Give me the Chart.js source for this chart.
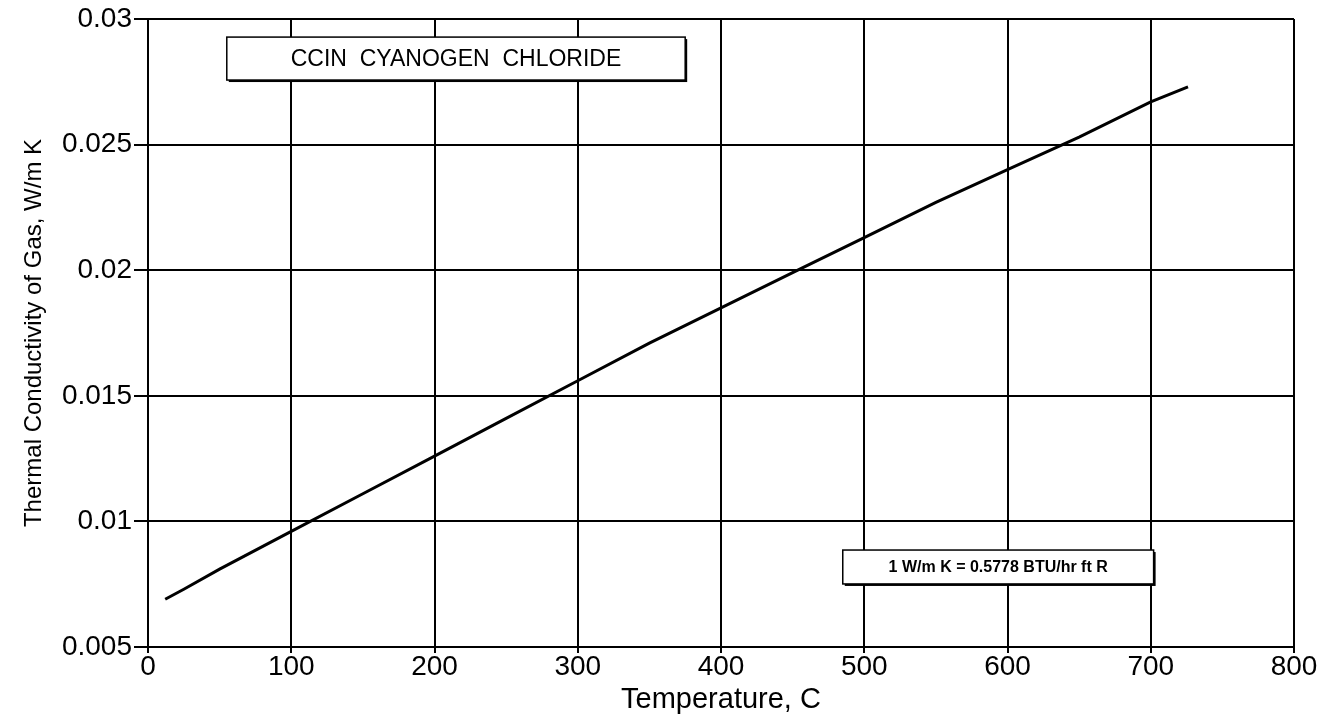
<!DOCTYPE html>
<html>
<head>
<meta charset="utf-8">
<script src="https://cdn.jsdelivr.net/npm/chart.js@4.4.1/dist/chart.umd.min.js"></script>
<style>
  html, body { margin: 0; padding: 0; background: #fff; }
  #wrap { width: 1336px; height: 722px; position: relative; }
</style>
</head>
<body>
<div id="wrap"><canvas id="grafico"></canvas></div>
<script>
// temperatura (C) y conductividad termica (W/m K)
var temperatura = [12, 25, 50, 100, 150, 200, 250, 300, 350, 400, 450, 500, 550, 600, 650, 700, 726];
var conductividad = [0.0069, 0.0073, 0.0081, 0.0096, 0.0111, 0.0126, 0.0141, 0.0156, 0.0171, 0.0185, 0.0199, 0.0213, 0.0227, 0.0240, 0.0253, 0.0267, 0.0273];
var ticksX = [0, 100, 200, 300, 400, 500, 600, 700, 800];
var ticksY = [0.005, 0.01, 0.015, 0.02, 0.025, 0.03];
var tituloGas = "CCIN  CYANOGEN  CHLORIDE";
var notaUnidades = "1 W/m K = 0.5778 BTU/hr ft R";

var puntos = [];
for (var i = 0; i < temperatura.length; i++) {
  puntos.push({ x: temperatura[i], y: conductividad[i] });
}

var familia = "'Liberation Sans', Arial, Helvetica, sans-serif";

// cajas de texto, ubicadas en unidades de los ejes
var cajas = [
  { texto: tituloGas, x0: 55, x1: 375, y0: 0.02928, y1: 0.02757, font: "23px " + familia },
  { texto: notaUnidades, x0: 485, x1: 702, y0: 0.00886, y1: 0.00751, font: "bold 16px " + familia }
];

var pluginCajas = {
  id: "cajas",
  afterDraw: function(chart) {
    var ctx = chart.ctx;
    var sx = chart.scales.x, sy = chart.scales.y;
    cajas.forEach(function(c) {
      var l = sx.getPixelForValue(c.x0), r = sx.getPixelForValue(c.x1);
      var t = sy.getPixelForValue(c.y0), b = sy.getPixelForValue(c.y1);
      ctx.save();
      // sombra
      ctx.fillStyle = "#000";
      ctx.fillRect(l + 2, t + 2, r - l, b - t);
      ctx.fillStyle = "#fff";
      ctx.fillRect(l, t, r - l, b - t);
      ctx.strokeStyle = "#000";
      ctx.lineWidth = 1.5;
      ctx.strokeRect(l, t, r - l, b - t);
      ctx.fillStyle = "#000";
      ctx.font = c.font;
      ctx.textAlign = "center";
      ctx.textBaseline = "middle";
      ctx.fillText(c.texto, (l + r) / 2, (t + b) / 2 + 1);
      ctx.restore();
    });
  }
};

var canvas = document.getElementById("grafico");
var grafico = new Chart(canvas.getContext("2d"), {
  type: "line",
  data: {
    datasets: [{
      data: puntos,
      borderColor: "#000",
      borderWidth: 3,
      pointRadius: 0,
      fill: false,
      tension: 0
    }]
  },
  options: {
    responsive: true,
    maintainAspectRatio: false,
    animation: false,
    layout: { padding: { top: 19, right: 42, left: 0, bottom: 0 } },
    plugins: { legend: { display: false }, tooltip: { enabled: false } },
    scales: {
      x: {
        type: "linear",
        min: 0, max: 800,
        afterBuildTicks: function(scale) { scale.ticks = ticksX.map(function(v) { return { value: v }; }); },
        afterFit: function(scale) { scale.height = 75; },
        grid: { color: "#000", lineWidth: 2, tickLength: 6, drawTicks: true },
        border: { color: "#000", width: 2 },
        ticks: { color: "#000", font: { family: familia, size: 28, lineHeight: 1 }, padding: 0, maxRotation: 0, autoSkip: false },
        title: { display: true, text: "Temperature, C", color: "#000", font: { family: familia, size: 29 }, padding: { top: 0, bottom: 5 } }
      },
      y: {
        min: 0.005, max: 0.03,
        afterBuildTicks: function(scale) { scale.ticks = ticksY.map(function(v) { return { value: v }; }); },
        afterFit: function(scale) { scale.width = 148; },
        grid: { color: "#000", lineWidth: 2, tickLength: 14, drawTicks: true },
        border: { color: "#000", width: 2 },
        ticks: {
          color: "#000", font: { family: familia, size: 28, lineHeight: 1 }, padding: 2, autoSkip: false,
          callback: function(v) { return String(+v.toFixed(3)); }
        },
        title: { display: true, text: "Thermal Conductivity of Gas, W/m K", color: "#000", font: { family: familia, size: 24 }, padding: { top: 20, bottom: 0 } }
      }
    }
  },
  plugins: [pluginCajas]
});
</script>
</body>
</html>
